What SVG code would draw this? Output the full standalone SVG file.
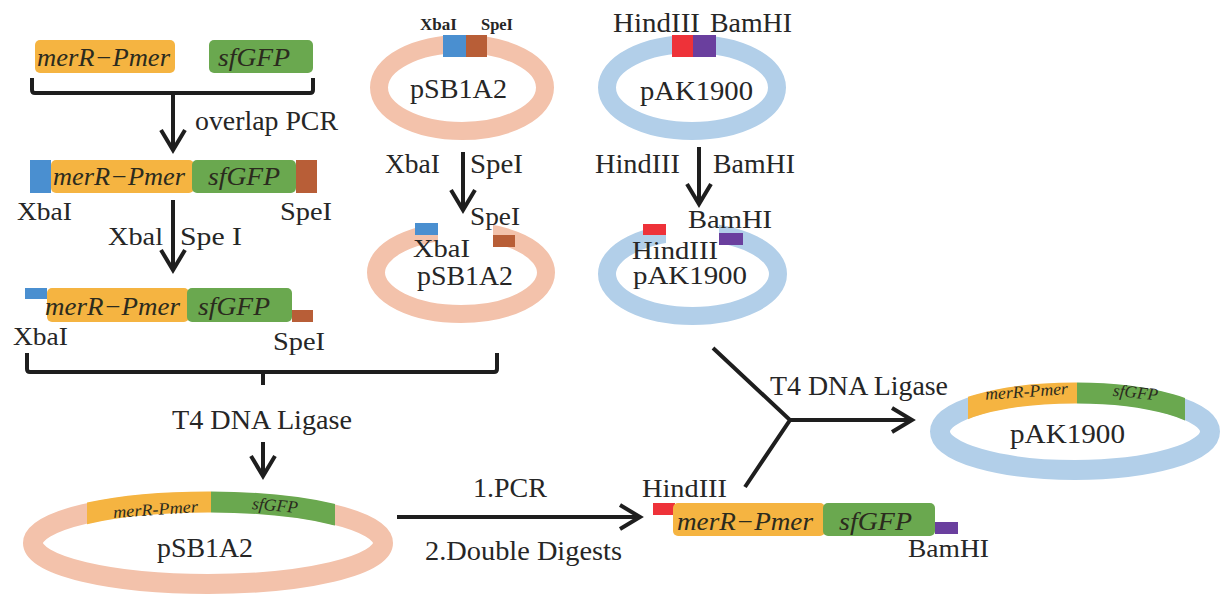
<svg xmlns="http://www.w3.org/2000/svg" width="1230" height="612" viewBox="0 0 1230 612">
<defs>
<style>
.t{font-family:"Liberation Serif","Times New Roman",Times,serif;fill:#262626;font-size:25px}
.L{font-size:26.5px}
.i{font-family:"Liberation Serif","Times New Roman",Times,serif;font-style:italic;fill:#2b2b1e;font-size:25px}
.s{font-size:17px}
.p{font-size:28px}
.si{font-size:17px}
.ln{stroke:#1e1e1e;stroke-width:4;fill:none}
.or{fill:#F5B441}
.gr{fill:#6AA84F}
.bl{fill:#4A8FD0}
.br{fill:#B85E37}
.rd{fill:#EE3239}
.pu{fill:#6A3F9E}
.pk{fill:none;stroke:#F3C2AB;stroke-width:18}
.lb{fill:none;stroke:#B2CFE9;stroke-width:18}
</style>
<marker id="chev" markerUnits="userSpaceOnUse" markerWidth="32" markerHeight="32" viewBox="0 0 32 32" refX="28" refY="16" orient="auto">
<path d="M8,4 L28,16 L8,28" fill="none" stroke="#1e1e1e" stroke-width="4"/>
</marker>
<clipPath id="gap3"><path clip-rule="evenodd" d="M0,0H1230V612H0Z M438,212H493V256H438Z"/></clipPath>
<clipPath id="gap4"><path clip-rule="evenodd" d="M0,0H1230V612H0Z M666,212H719V256H666Z"/></clipPath>
<clipPath id="c5o"><rect x="87" y="480" width="124" height="62"/></clipPath>
<clipPath id="c5g"><rect x="211" y="480" width="124" height="62"/></clipPath>
<clipPath id="c6o"><rect x="968" y="370" width="109" height="61"/></clipPath>
<clipPath id="c6g"><rect x="1077" y="370" width="108" height="61"/></clipPath>
</defs>
<rect width="1230" height="612" fill="#ffffff"/>

<g id="parts-top">
<rect class="or" x="35" y="40" width="140" height="33" rx="5"/>
<rect class="gr" x="209" y="40" width="104" height="33" rx="5"/>
<text class="i" x="37" y="66" textLength="133" lengthAdjust="spacingAndGlyphs">merR−Pmer</text>
<text class="i" x="218" y="66" textLength="72" lengthAdjust="spacingAndGlyphs">sfGFP</text>
</g>

<g id="fusion-pcr">
<rect class="bl" x="30" y="160" width="21" height="33"/>
<rect class="br" x="296" y="160" width="21" height="33"/>
<rect class="or" x="51" y="160" width="143" height="33" rx="5"/>
<rect class="gr" x="192" y="160" width="104" height="33" rx="5"/>
<text class="i" x="53" y="185" textLength="132" lengthAdjust="spacingAndGlyphs">merR−Pmer</text>
<text class="i" x="208" y="185" textLength="72" lengthAdjust="spacingAndGlyphs">sfGFP</text>
<text class="t" x="17" y="220" textLength="55" lengthAdjust="spacingAndGlyphs">XbaI</text>
<text class="t" x="280" y="220" textLength="52" lengthAdjust="spacingAndGlyphs">SpeI</text>
</g>

<g id="fusion-digested">
<rect class="bl" x="25" y="288" width="22" height="11"/>
<rect class="br" x="292" y="310" width="21" height="12"/>
<rect class="or" x="47" y="288" width="142" height="34" rx="5"/>
<rect class="gr" x="187" y="288" width="105" height="34" rx="5"/>
<text class="i" x="45" y="315" textLength="135" lengthAdjust="spacingAndGlyphs">merR−Pmer</text>
<text class="i" x="198" y="315" textLength="72" lengthAdjust="spacingAndGlyphs">sfGFP</text>
<text class="t" x="13" y="345" textLength="55" lengthAdjust="spacingAndGlyphs">XbaI</text>
<text class="t" x="273" y="350" textLength="52" lengthAdjust="spacingAndGlyphs">SpeI</text>
</g>

<g id="pSB1A2-vector">
<ellipse class="pk" cx="462" cy="87.5" rx="83" ry="43.5"/>
<rect class="bl" x="443" y="35" width="23" height="22"/>
<rect class="br" x="466" y="35" width="21" height="22"/>
<text class="t s" x="420" y="30" textLength="37" lengthAdjust="spacingAndGlyphs" font-weight="bold">XbaI</text>
<text class="t s" x="481" y="30" textLength="32" lengthAdjust="spacingAndGlyphs" font-weight="bold">SpeI</text>
<text class="t p" x="410" y="98" textLength="97" lengthAdjust="spacingAndGlyphs">pSB1A2</text>
</g>

<g id="pSB1A2-cut">
<ellipse class="pk" cx="461" cy="272.5" rx="85" ry="41.5" clip-path="url(#gap3)"/>
<rect class="bl" x="415" y="223" width="23" height="12"/>
<rect class="br" x="493" y="235" width="22" height="12"/>
<text class="t" x="470" y="225" textLength="50" lengthAdjust="spacingAndGlyphs">SpeI</text>
<text class="t" x="413" y="257" textLength="57" lengthAdjust="spacingAndGlyphs">XbaI</text>
<text class="t p" x="417" y="285" textLength="96" lengthAdjust="spacingAndGlyphs">pSB1A2</text>
</g>

<g id="pAK1900-vector">
<ellipse class="lb" cx="692" cy="87.5" rx="85" ry="43.5"/>
<rect class="rd" x="672" y="35" width="21" height="22"/>
<rect class="pu" x="693" y="35" width="23" height="22"/>
<text class="t p" x="613" y="32" textLength="87" lengthAdjust="spacingAndGlyphs">HindIII</text>
<text class="t p" x="710" y="32" textLength="82" lengthAdjust="spacingAndGlyphs">BamHI</text>
<text class="t p" x="640" y="100" textLength="113" lengthAdjust="spacingAndGlyphs">pAK1900</text>
</g>

<g id="pAK1900-cut">
<ellipse class="lb" cx="692.5" cy="274" rx="85.5" ry="42" clip-path="url(#gap4)"/>
<rect class="rd" x="643" y="224" width="23" height="11"/>
<rect class="pu" x="719" y="233" width="24" height="12"/>
<text class="t" x="688" y="228" textLength="84" lengthAdjust="spacingAndGlyphs">BamHI</text>
<text class="t" x="632" y="259" textLength="86" lengthAdjust="spacingAndGlyphs">HindIII</text>
<text class="t" x="633" y="284" font-size="27" textLength="114" lengthAdjust="spacingAndGlyphs">pAK1900</text>
</g>

<g id="pSB1A2-recombinant">
<ellipse cx="208" cy="543" rx="175" ry="41" fill="none" stroke="#F3C2AB" stroke-width="20"/>
<ellipse cx="208" cy="543" rx="175" ry="41" fill="none" stroke="#F5B441" stroke-width="21" clip-path="url(#c5o)"/>
<ellipse cx="208" cy="543" rx="175" ry="41" fill="none" stroke="#6AA84F" stroke-width="21" clip-path="url(#c5g)"/>
<text class="i si" x="113" y="515" textLength="85" lengthAdjust="spacingAndGlyphs" transform="rotate(-4 155 510)">merR-Pmer</text>
<text class="i si" x="252" y="511" textLength="46" lengthAdjust="spacingAndGlyphs" transform="rotate(5 275 506)">sfGFP</text>
<text class="t p" x="157" y="557" textLength="96" lengthAdjust="spacingAndGlyphs">pSB1A2</text>
</g>

<g id="insert-pcr">
<rect class="rd" x="653" y="503" width="22" height="12"/>
<rect class="pu" x="935" y="522" width="23" height="12"/>
<rect class="or" x="673" y="503" width="152" height="33" rx="5"/>
<rect class="gr" x="823" y="503" width="112" height="33" rx="5"/>
<text class="i" x="677" y="530" textLength="136" lengthAdjust="spacingAndGlyphs">merR−Pmer</text>
<text class="i" x="839" y="530" textLength="73" lengthAdjust="spacingAndGlyphs">sfGFP</text>
<text class="t" x="642" y="497" textLength="85" lengthAdjust="spacingAndGlyphs">HindIII</text>
<text class="t" x="908" y="557" textLength="81" lengthAdjust="spacingAndGlyphs">BamHI</text>
</g>

<g id="pAK1900-recombinant">
<ellipse cx="1075" cy="431.5" rx="135" ry="38.5" fill="none" stroke="#B2CFE9" stroke-width="20"/>
<ellipse cx="1075" cy="431.5" rx="135" ry="38.5" fill="none" stroke="#F5B441" stroke-width="21" clip-path="url(#c6o)"/>
<ellipse cx="1075" cy="431.5" rx="135" ry="38.5" fill="none" stroke="#6AA84F" stroke-width="21" clip-path="url(#c6g)"/>
<text class="i si" x="985" y="397" textLength="83" lengthAdjust="spacingAndGlyphs" transform="rotate(-4 1026 392)">merR-Pmer</text>
<text class="i si" x="1113" y="398" textLength="45" lengthAdjust="spacingAndGlyphs" transform="rotate(6 1135 393)">sfGFP</text>
<text class="t p" x="1010" y="443" textLength="115" lengthAdjust="spacingAndGlyphs">pAK1900</text>
</g>

<g id="connectors">
<path class="ln" stroke-width="3" d="M32,78 V90 Q32,93 35,93 H310 Q313,93 313,90 V78"/>
<line class="ln" x1="173" y1="93" x2="173" y2="150" marker-end="url(#chev)"/>
<line class="ln" x1="173" y1="200" x2="173" y2="270" marker-end="url(#chev)"/>
<line class="ln" x1="463" y1="152" x2="463" y2="210" marker-end="url(#chev)"/>
<line class="ln" x1="699" y1="147" x2="699" y2="204" marker-end="url(#chev)"/>
<path class="ln" stroke-width="3" d="M27,353 V369 Q27,372 30,372 H494 Q497,372 497,369 V353"/>
<line class="ln" stroke-width="6" x1="263" y1="372" x2="263" y2="385"/>
<line class="ln" x1="263" y1="442" x2="263" y2="476" marker-end="url(#chev)"/>
<line class="ln" x1="397" y1="517" x2="640" y2="517" marker-end="url(#chev)"/>
<polyline class="ln" points="713,348 790,420 745,487"/>
<line class="ln" x1="790" y1="420" x2="912" y2="420" marker-end="url(#chev)"/>
</g>

<g id="step-labels">
<text class="t L" x="195" y="130" textLength="143" lengthAdjust="spacingAndGlyphs">overlap PCR</text>
<text class="t" x="108" y="245" textLength="55" lengthAdjust="spacingAndGlyphs">Xbal</text>
<text class="t" x="180" y="245" textLength="62" lengthAdjust="spacingAndGlyphs">Spe I</text>
<text class="t L" x="385" y="173" textLength="55" lengthAdjust="spacingAndGlyphs">XbaI</text>
<text class="t L" x="470" y="173" textLength="53" lengthAdjust="spacingAndGlyphs">SpeI</text>
<text class="t L" x="595" y="173" textLength="85" lengthAdjust="spacingAndGlyphs">HindIII</text>
<text class="t L" x="713" y="173" textLength="82" lengthAdjust="spacingAndGlyphs">BamHI</text>
<text class="t L" x="172" y="429" textLength="180" lengthAdjust="spacingAndGlyphs">T4 DNA Ligase</text>
<text class="t L" x="473" y="497" textLength="74" lengthAdjust="spacingAndGlyphs">1.PCR</text>
<text class="t L" x="425" y="560" textLength="197" lengthAdjust="spacingAndGlyphs">2.Double Digests</text>
<text class="t L" x="770" y="395" textLength="178" lengthAdjust="spacingAndGlyphs">T4 DNA Ligase</text>
</g>
</svg>
